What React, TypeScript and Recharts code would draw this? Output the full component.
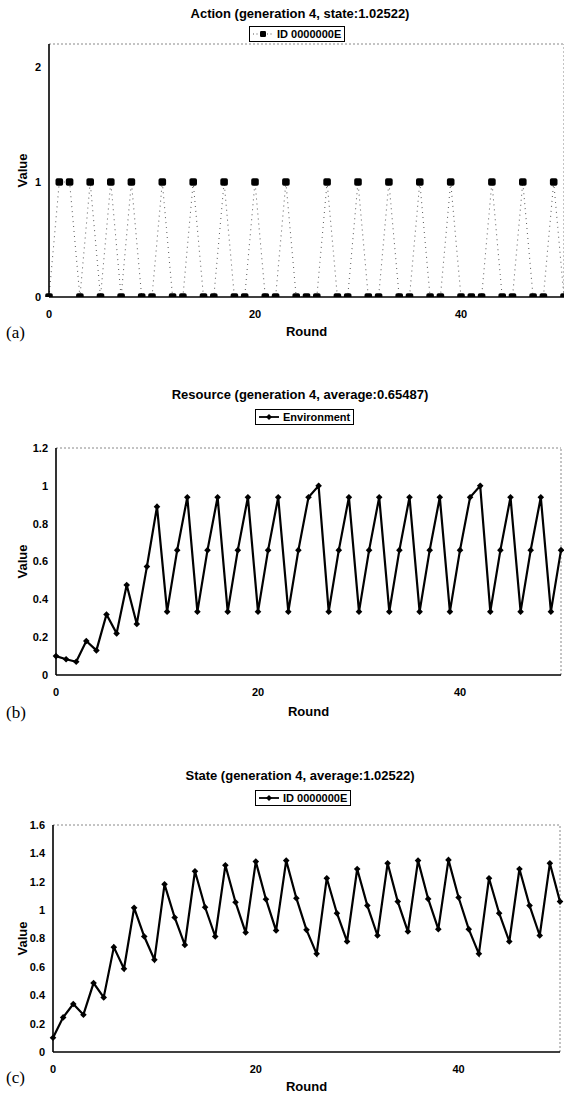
import React from "react";
import { LineChart, Line, XAxis, YAxis, ReferenceLine } from "recharts";

const rounds = [
  0, 1, 2, 3, 4, 5, 6, 7, 8, 9, 10, 11, 12, 13, 14, 15, 16, 17, 18, 19, 20, 21, 22, 23, 24, 25,
  26, 27, 28, 29, 30, 31, 32, 33, 34, 35, 36, 37, 38, 39, 40, 41, 42, 43, 44, 45, 46, 47, 48, 49, 50,
];

const actionValues = [
  0, 1, 1, 0, 1, 0, 1, 0, 1, 0, 0, 1, 0, 0, 1, 0, 0, 1, 0, 0, 1, 0, 0, 1, 0, 0, 0, 1, 0, 0, 1, 0, 0,
  1, 0, 0, 1, 0, 0, 1, 0, 0, 0, 1, 0, 0, 1, 0, 0, 1, 0,
];

const resourceValues = [
  0.1, 0.083, 0.07, 0.18, 0.13, 0.32, 0.22, 0.476, 0.27, 0.573, 0.89, 0.335, 0.66, 0.94, 0.335,
  0.66, 0.94, 0.335, 0.66, 0.94, 0.335, 0.66, 0.94, 0.335, 0.66, 0.94, 1.0, 0.335, 0.66, 0.94,
  0.335, 0.66, 0.94, 0.335, 0.66, 0.94, 0.335, 0.66, 0.94, 0.335, 0.66, 0.94, 1.0, 0.335, 0.66,
  0.94, 0.335, 0.66, 0.94, 0.335, 0.66,
];

const stateValues = [
  0.1, 0.244, 0.338, 0.263, 0.486, 0.385, 0.739, 0.587, 1.016, 0.814, 0.65, 1.182, 0.948, 0.755,
  1.274, 1.02, 0.814, 1.316, 1.056, 0.842, 1.342, 1.077, 0.856, 1.349, 1.084, 0.861, 0.692, 1.225,
  0.978, 0.779, 1.29, 1.032, 0.821, 1.33, 1.06, 0.849, 1.349, 1.079, 0.866, 1.354, 1.089, 0.866,
  0.692, 1.225, 0.978, 0.779, 1.29, 1.032, 0.821, 1.33, 1.06,
];

const roundDomain: [number, number] = [0, 50];
const roundTicks = [0, 20, 40];
const actionTicks = [0, 1, 2];
const resourceTicks = [0, 0.2, 0.4, 0.6, 0.8, 1, 1.2];
const stateTicks = [0, 0.2, 0.4, 0.6, 0.8, 1, 1.2, 1.4, 1.6];

const actionData = rounds.map((r, i) => ({ round: r, value: actionValues[i] }));
const resourceData = rounds.map((r, i) => ({ round: r, value: resourceValues[i] }));
const stateData = rounds.map((r, i) => ({ round: r, value: stateValues[i] }));

const font = "'Liberation Sans', Arial, sans-serif";
const tickStyle = { fill: "#000", fontSize: 11, fontWeight: 700, fontFamily: font };
const axisStroke = { stroke: "#000", strokeWidth: 1.6 };

const Diamond = (props: any) => {
  const { cx, cy, index } = props;
  if (cx == null || cy == null) return <g key={index} />;
  const s = 3.3;
  return (
    <path
      key={index}
      d={`M${cx},${cy - s}L${cx + s},${cy}L${cx},${cy + s}L${cx - s},${cy}Z`}
      fill="#000"
    />
  );
};

const Square = (props: any) => {
  const { cx, cy, index } = props;
  if (cx == null || cy == null) return <g key={index} />;
  const s = 3.8;
  return <rect key={index} x={cx - s} y={cy - s} width={s * 2} height={s * 2} rx={1.8} fill="#000" />;
};

function Title({ text, y }: { text: string; y: number }) {
  return (
    <div
      style={{
        position: "absolute",
        left: 0,
        width: 600,
        top: y - 8,
        lineHeight: "16px",
        textAlign: "center",
        fontFamily: font,
        fontWeight: 700,
        fontSize: 13,
        color: "#000",
      }}
    >
      {text}
    </div>
  );
}

function LegendBox({ text, x, y, dotted }: { text: string; x: number; y: number; dotted?: boolean }) {
  return (
    <div
      style={{
        position: "absolute",
        left: x,
        top: y,
        height: 14,
        border: "1px solid #000",
        padding: "0 3px 0 2px",
        display: "flex",
        alignItems: "center",
        fontFamily: font,
        fontWeight: 700,
        fontSize: 11,
        color: "#000",
        background: "#fff",
      }}
    >
      <svg width={22} height={10} style={{ marginRight: 3 }}>
        {dotted ? (
          <>
            <line x1={1} y1={5} x2={21} y2={5} stroke="#555" strokeWidth={1.2} strokeDasharray="1 2.5" />
            <rect x={8} y={2} width={6} height={6} rx={1.2} fill="#000" />
          </>
        ) : (
          <>
            <line x1={1} y1={5} x2={21} y2={5} stroke="#000" strokeWidth={1.8} />
            <path d="M11,2L14,5L11,8L8,5Z" fill="#000" />
          </>
        )}
      </svg>
      {text}
    </div>
  );
}

function PanelTag({ text, y }: { text: string; y: number }) {
  return (
    <div
      style={{
        position: "absolute",
        left: 6,
        top: y - 10,
        lineHeight: "20px",
        fontFamily: "'Liberation Serif', 'Times New Roman', serif",
        fontSize: 17,
        color: "#000",
      }}
    >
      {text}
    </div>
  );
}

function Panel({
  data,
  top,
  height,
  marginTop,
  marginRight,
  yWidth,
  xHeight,
  yDomain,
  yTicks,
  dotted,
}: {
  data: { round: number; value: number }[];
  top: number;
  height: number;
  marginTop: number;
  marginRight: number;
  yWidth: number;
  xHeight: number;
  yDomain: [number, number];
  yTicks: number[];
  dotted?: boolean;
}) {
  return (
    <div style={{ position: "absolute", left: 0, top }}>
      <LineChart
        width={564}
        height={height}
        data={data}
        margin={{ top: marginTop, right: marginRight, bottom: 0, left: 0 }}
      >
        <XAxis
          dataKey="round"
          type="number"
          domain={roundDomain}
          ticks={roundTicks}
          height={xHeight}
          tickLine={false}
          tickSize={0}
          tickMargin={13}
          axisLine={axisStroke}
          tick={tickStyle}
          label={{
            value: "Round",
            position: "insideBottom",
            offset: 4,
            style: { fill: "#000", fontSize: 13, fontWeight: 700, fontFamily: font },
          }}
        />
        <YAxis
          type="number"
          domain={yDomain}
          ticks={yTicks}
          width={yWidth}
          tickLine={false}
          tickSize={0}
          tickMargin={8}
          axisLine={axisStroke}
          tick={tickStyle}
          allowDataOverflow
          label={{
            value: "Value",
            angle: -90,
            position: "insideLeft",
            offset: 22,
            style: { fill: "#000", fontSize: 13, fontWeight: 700, fontFamily: font, textAnchor: "middle" },
          }}
        />
        <ReferenceLine y={yDomain[1]} stroke="#888" strokeWidth={1} strokeDasharray="2 2" />
        <ReferenceLine x={roundDomain[1]} stroke="#888" strokeWidth={1} strokeDasharray="2 2" />
        {dotted ? (
          <Line
            dataKey="value"
            stroke="#666"
            strokeWidth={1.1}
            strokeDasharray="1 4"
            dot={Square}
            activeDot={false}
            isAnimationActive={false}
            type="linear"
          />
        ) : (
          <Line
            dataKey="value"
            stroke="#000"
            strokeWidth={2.2}
            dot={Diamond}
            activeDot={false}
            isAnimationActive={false}
            type="linear"
          />
        )}
      </LineChart>
    </div>
  );
}

export default function App() {
  return (
    <div style={{ position: "absolute", left: 0, top: 0, width: 564, height: 1095, background: "#fff" }}>
      <Panel
        data={actionData}
        top={0}
        height={340}
        marginTop={44}
        marginRight={0}
        yWidth={49}
        xHeight={43}
        yDomain={[0, 2.2]}
        yTicks={actionTicks}
        dotted
      />
      <Panel
        data={resourceData}
        top={380}
        height={340}
        marginTop={68}
        marginRight={3}
        yWidth={56}
        xHeight={45}
        yDomain={[0, 1.2]}
        yTicks={resourceTicks}
      />
      <Panel
        data={stateData}
        top={760}
        height={335}
        marginTop={65}
        marginRight={4}
        yWidth={53}
        xHeight={43}
        yDomain={[0, 1.6]}
        yTicks={stateTicks}
      />
      <Title text="Action (generation 4, state:1.02522)" y={14} />
      <LegendBox text="ID 0000000E" x={249} y={26} dotted />
      <Title text="Resource (generation 4, average:0.65487)" y={395} />
      <LegendBox text="Environment" x={255} y={409} />
      <Title text="State (generation 4, average:1.02522)" y={776} />
      <LegendBox text="ID 0000000E" x={255} y={790} />
      <PanelTag text="(a)" y={333} />
      <PanelTag text="(b)" y={713} />
      <PanelTag text="(c)" y={1078} />
    </div>
  );
}
